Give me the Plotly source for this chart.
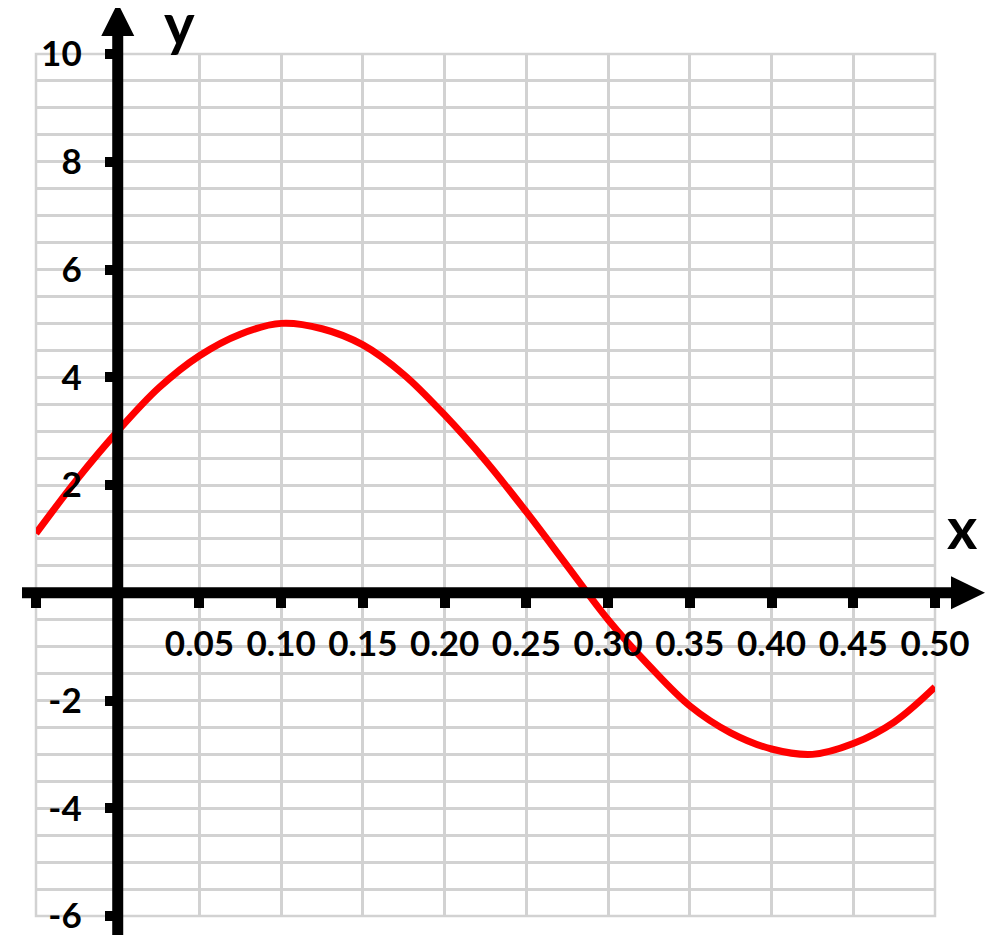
import plotly.graph_objects as go

# curve values
x_vals = [-0.05, -0.025, 0.0, 0.025, 0.05, 0.075, 0.10, 0.125, 0.15, 0.175, 0.20, 0.225,
          0.25, 0.275, 0.30, 0.325, 0.35, 0.375, 0.40, 0.425, 0.45, 0.475, 0.50]
y_vals = [1.1, 2.1, 3.0, 3.8, 4.4, 4.8, 5.0, 4.9, 4.6, 4.05, 3.3, 2.45,
          1.5, 0.5, -0.5, -1.35, -2.1, -2.6, -2.9, -3.0, -2.8, -2.4, -1.75]

x_ticks = [-0.05, 0.05, 0.10, 0.15, 0.20, 0.25, 0.30, 0.35, 0.40, 0.45, 0.50]
x_labels = ['', '0.05', '0.10', '0.15', '0.20', '0.25', '0.30', '0.35', '0.40', '0.45', '0.50']
y_ticks = [-6, -4, -2, 2, 4, 6, 8, 10]
y_labels = ['-6', '-4', '-2', '2', '4', '6', '8', '10']

x_range = [-0.05, 0.50]
y_range = [-6, 10]

# page puts the figure 8px in from the window corner
OFF = 8
W, H = 1000 - 2 * OFF, 948 - 2 * OFF
ML, MT = 36 - OFF, 54 - OFF
MR, MB = W - (935 - OFF), H - (916 - OFF)
PW, PH = W - ML - MR, H - MT - MB


def px_x(p):
    # screen pixel -> paper x
    return (p - OFF - ML) / PW


def px_y(p):
    # screen pixel -> paper y
    return (H - MB - (p - OFF)) / PH


# where the zero lines sit in paper coordinates
x0_paper = (0 - x_range[0]) / (x_range[1] - x_range[0])
y0_paper = (0 - y_range[0]) / (y_range[1] - y_range[0])

GRID = '#d2d2d2'
FONT = dict(family='Lato', size=35, color='black', weight='bold')
BIG = dict(family='Lato', size=58, color='black', weight='bold')

fig = go.Figure()
fig.add_trace(go.Scatter(x=x_vals, y=y_vals, mode='lines',
                         line=dict(color='#ff0000', width=7, shape='spline'),
                         hoverinfo='skip'))

# y axis line and arrow
ax_half = 16.5
fig.add_shape(type='line', xref='paper', yref='paper',
              x0=x0_paper, x1=x0_paper, y0=px_y(935), y1=px_y(30),
              line=dict(color='black', width=11))
fig.add_shape(type='path', xref='paper', yref='paper',
              path=f'M {x0_paper - ax_half / PW},{px_y(36)} L {x0_paper + ax_half / PW},{px_y(36)} '
                   f'L {x0_paper},{px_y(3)} Z',
              fillcolor='black', line=dict(width=0))
# x axis line and arrow
fig.add_shape(type='line', xref='paper', yref='paper',
              x0=px_x(22), x1=px_x(955), y0=y0_paper, y1=y0_paper,
              line=dict(color='black', width=11))
fig.add_shape(type='path', xref='paper', yref='paper',
              path=f'M {px_x(951)},{y0_paper + ax_half / PH} L {px_x(985)},{y0_paper} '
                   f'L {px_x(951)},{y0_paper - ax_half / PH} Z',
              fillcolor='black', line=dict(width=0))
# grid border
fig.add_shape(type='rect', xref='paper', yref='paper', x0=0, x1=1, y0=0, y1=1,
              line=dict(color=GRID, width=2.5), layer='below')

fig.add_annotation(text='y', xref='paper', yref='paper', x=px_x(179), y=px_y(22),
                   xanchor='center', yanchor='middle', showarrow=False, font=BIG)
fig.add_annotation(text='x', xref='paper', yref='paper', x=px_x(962), y=px_y(526),
                   xanchor='center', yanchor='middle', showarrow=False, font=BIG)

fig.update_xaxes(range=x_range, tickmode='array', tickvals=x_ticks, ticktext=x_labels,
                 anchor='free', position=y0_paper, side='bottom',
                 ticks='outside', ticklen=14, tickwidth=10, tickcolor='black',
                 ticklabelstandoff=6, tickfont=FONT,
                 showgrid=True, gridcolor=GRID, gridwidth=2.5,
                 showline=False, zeroline=False, automargin=False)
fig.update_yaxes(range=y_range, tickmode='array', tickvals=y_ticks, ticktext=y_labels,
                 anchor='free', position=x0_paper, side='left',
                 ticks='outside', ticklen=13, tickwidth=10, tickcolor='black',
                 ticklabelstandoff=16, tickfont=FONT,
                 showgrid=True, gridcolor=GRID, gridwidth=2.5,
                 minor=dict(tickmode='linear', tick0=-6, dtick=0.5, ticks='',
                            showgrid=True, gridcolor=GRID, gridwidth=2.5),
                 showline=False, zeroline=False, automargin=False)

fig.update_layout(width=W, height=H, margin=dict(l=ML, r=MR, t=MT, b=MB),
                  plot_bgcolor='white', paper_bgcolor='white', showlegend=False)

fig.write_html("out.html")
